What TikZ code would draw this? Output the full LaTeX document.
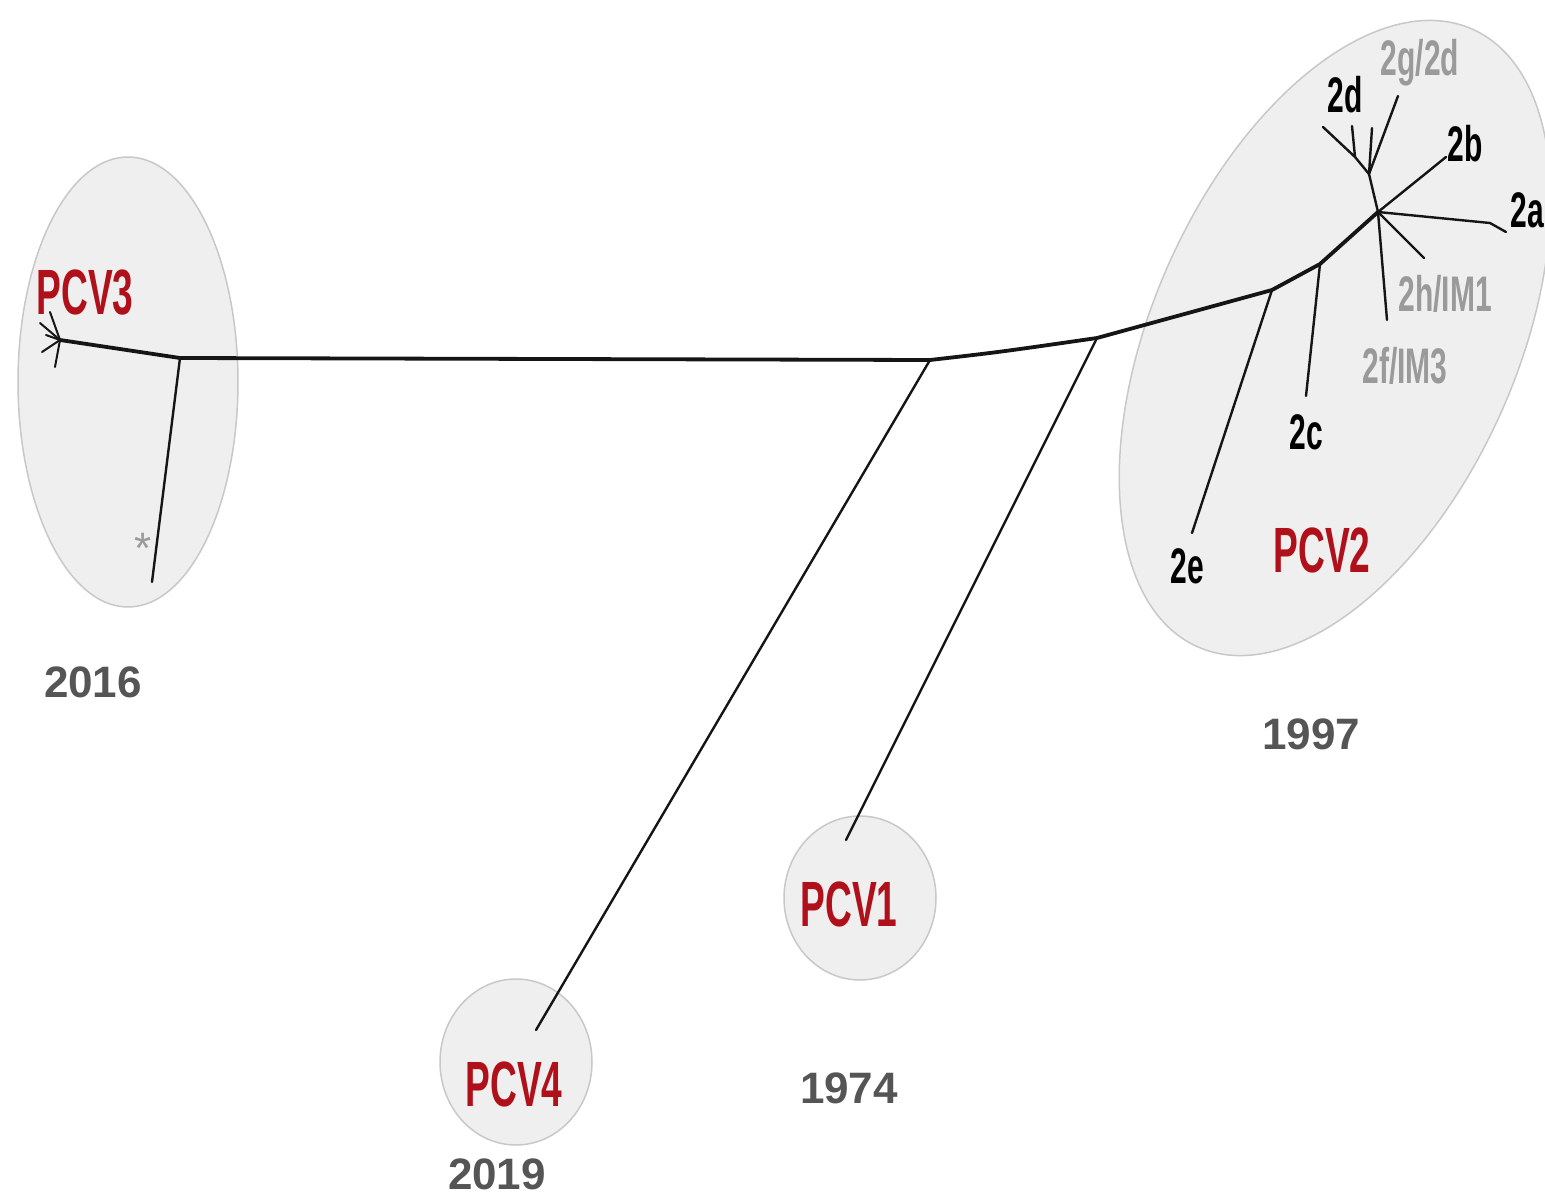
\documentclass[tikz,border=0pt]{standalone}
\usepackage{fontspec}
\setmainfont{Liberation Sans}
\definecolor{pcvred}{HTML}{B0101A}
\definecolor{subgray}{HTML}{9A9A9A}
\definecolor{yeargray}{HTML}{555555}
\definecolor{ellfill}{HTML}{EFEFEF}
\definecolor{elldraw}{HTML}{C8C8C8}
\definecolor{treeblack}{HTML}{151515}
\tikzset{
  cluster/.style={fill=ellfill, draw=elldraw, line width=1.5pt},
  trunk/.style={draw=treeblack, line width=3.8pt, line cap=round, line join=round},
  branch/.style={draw=treeblack, line width=2.4pt, line cap=round, line join=round},
  twig/.style={draw=treeblack, line width=2pt, line cap=round},
  pcv/.style={text=pcvred, font=\fontsize{64}{64}\selectfont\bfseries, xscale=0.58, inner sep=0pt},
  sublab/.style={text=black, font=\fontsize{50}{50}\selectfont\bfseries, xscale=0.6, inner sep=0pt},
  subgray/.style={sublab, text=subgray},
  year/.style={text=yeargray, font=\fontsize{44}{44}\selectfont\bfseries, inner sep=0pt}
}
\begin{document}
\begin{tikzpicture}[x=1pt,y=-1pt]
\useasboundingbox (0,0) rectangle (1545,1198);
% clusters
\draw[cluster] (128,382) ellipse [x radius=110, y radius=225];
\draw[cluster, rotate around={-24:(1335,338)}] (1335,338) ellipse [x radius=182, y radius=338];
\draw[cluster] (860,898) ellipse [x radius=76, y radius=82];
\draw[cluster] (516,1062) ellipse [x radius=76, y radius=83];
% coordinates of tree
\coordinate (t3) at (60,340);
\coordinate (n3) at (180,358);
\coordinate (ast) at (152,582);
\coordinate (n4) at (930,360);
\coordinate (n1) at (1097,338);
\coordinate (ne) at (1272,290);
\coordinate (nc) at (1320,264);
\coordinate (hub) at (1378,212);
\coordinate (tip4) at (536,1030);
\coordinate (tip1) at (846,840);
\coordinate (tipe) at (1192,533);
\coordinate (tipc) at (1306,396);
\coordinate (a1) at (1490,223);
\coordinate (tipa) at (1506,232);
\coordinate (tiph) at (1424,258);
\coordinate (tipf) at (1387,320);
\coordinate (b1) at (1430,170);
\coordinate (tipb) at (1446,157);
\coordinate (nd) at (1369,174);
\coordinate (nd2) at (1355,157);
\coordinate (tipd1) at (1323,127);
\coordinate (tipd2) at (1352,126);
\coordinate (tipd3) at (1372,128);
\coordinate (tipg) at (1398,96);
% PCV3 bristles
\coordinate (p1) at (40,323);
\coordinate (p2) at (50,312);
\coordinate (p3) at (42,352);
\coordinate (p4) at (55,367);
\coordinate (p5) at (46,335);
\draw[twig] (t3) -- (p1);
\draw[twig] (t3) -- (p2);
\draw[twig] (t3) -- (p3);
\draw[twig] (t3) -- (p4);
\draw[twig] (t3) -- (p5);
% trunk
\draw[trunk] (t3) -- (n3) -- (n4) .. controls (1000,352) .. (n1) -- (ne) -- (nc) -- (hub);
% branches
\draw[branch] (n3) -- (ast);
\draw[branch] (n4) -- (tip4);
\draw[branch] (n1) -- (tip1);
\draw[branch] (ne) -- (tipe);
\draw[branch] (nc) -- (tipc);
\draw[branch] (hub) -- (a1) -- (tipa);
\draw[branch] (hub) -- (tiph);
\draw[branch] (hub) -- (tipf);
\draw[branch] (hub) -- (b1) -- (tipb);
\draw[branch] (hub) -- (nd);
\draw[branch] (nd) -- (nd2) -- (tipd1);
\draw[branch] (nd2) -- (tipd2);
\draw[branch] (nd) -- (tipd3);
\draw[branch] (nd) -- (tipg);
% labels
\node[pcv] (pcv3) at (85,293) {PCV3};
\node[pcv] (pcv2) at (1322,550) {PCV2};
\node[pcv] (pcv1) at (849,904) {PCV1};
\node[pcv] (pcv4) at (514,1084) {PCV4};
\node[sublab] (l2d) at (1345,95) {2d};
\node[subgray] (l2g) at (1420,63) {2g/2d};
\node[sublab] (l2b) at (1465,144) {2b};
\node[sublab] (l2a) at (1527,210) {2a};
\node[subgray] (l2h) at (1445,294) {2h/IM1};
\node[subgray] (l2f) at (1405,366) {2f/IM3};
\node[sublab] (l2c) at (1306,432) {2c};
\node[sublab] (l2e) at (1187,566) {2e};
\node[text=subgray, font=\fontsize{44}{44}\selectfont, inner sep=0pt] (star) at (143,548) {*};
\node[year] (y2016) at (93,682) {2016};
\node[year] (y1997) at (1311,734) {1997};
\node[year] (y1974) at (849,1088) {1974};
\node[year] (y2019) at (497,1174) {2019};
\end{tikzpicture}
\end{document}
